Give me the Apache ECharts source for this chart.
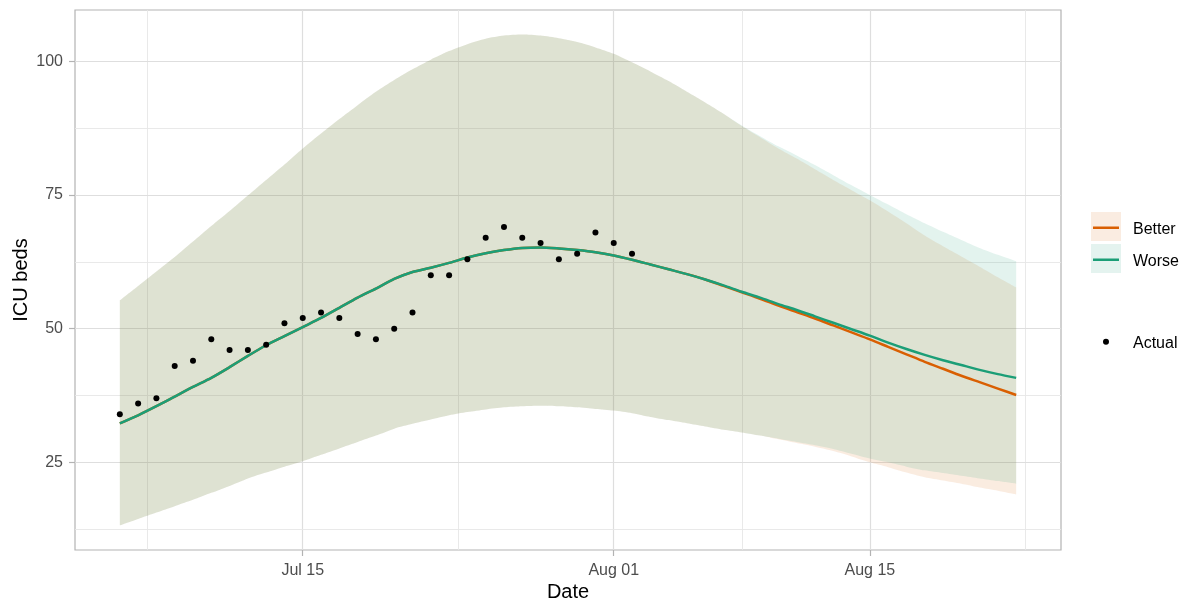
<!DOCTYPE html>
<html><head><meta charset="utf-8">
<script src="https://cdn.jsdelivr.net/npm/echarts@6/dist/echarts.min.js"></script>
<style>html,body{margin:0;padding:0;background:#fff}#chart{width:1188px;height:601px}</style>
</head><body><div id="chart"></div>
<script>
// ---------- data ----------
const forecastDates = ['2020-07-05','2020-07-06','2020-07-07','2020-07-08','2020-07-09','2020-07-10','2020-07-11','2020-07-12','2020-07-13','2020-07-14',
  '2020-07-15','2020-07-16','2020-07-17','2020-07-18','2020-07-19','2020-07-20','2020-07-21','2020-07-22','2020-07-23','2020-07-24',
  '2020-07-25','2020-07-26','2020-07-27','2020-07-28','2020-07-29','2020-07-30','2020-07-31','2020-08-01','2020-08-02','2020-08-03',
  '2020-08-04','2020-08-05','2020-08-06','2020-08-07','2020-08-08','2020-08-09','2020-08-10','2020-08-11','2020-08-12','2020-08-13',
  '2020-08-14','2020-08-15','2020-08-16','2020-08-17','2020-08-18','2020-08-19','2020-08-20','2020-08-21','2020-08-22','2020-08-23'];
const worseMid = [32.3,33.8,35.5,37.3,39.1,40.8,42.8,44.9,46.9,48.6, 50.3,52.0,53.9,55.8,57.5,59.3,60.6,61.4,62.3,63.3,
  64.1,64.7,65.1,65.2,65.0,64.7,64.3,63.7,62.9,62.0, 61.1,60.2,59.2,58.1,56.9,55.8,54.6,53.5,52.3,51.1,
  49.9,48.7,47.4,46.2,45.1,44.1,43.2,42.3,41.5,40.8];
const betterMid = [32.3,33.8,35.5,37.3,39.1,40.8,42.8,44.9,46.9,48.6, 50.3,52.0,53.9,55.8,57.5,59.3,60.6,61.4,62.3,63.3,
  64.1,64.7,65.1,65.2,65.0,64.7,64.3,63.7,62.9,62.0, 61.1,60.2,59.2,58.0,56.8,55.6,54.3,53.1,51.9,50.6,
  49.3,48.0,46.6,45.2,43.8,42.5,41.2,40.0,38.8,37.6];
const worseUpper = [55.3,58.0,60.7,63.4,66.3,69.2,72.0,74.9,77.8,80.7, 83.7,86.5,89.2,91.8,94.3,96.5,98.5,100.3,101.9,103.2,
  104.2,104.8,105.0,104.8,104.3,103.6,102.6,101.4,99.8,98.1, 96.3,94.3,92.3,90.2,88.0,86.0,84.1,82.4,80.6,78.7,
  76.8,75.0,73.2,71.4,69.7,68.1,66.6,65.1,63.8,62.6];
const betterUpper = [55.3,58.0,60.7,63.4,66.3,69.2,72.0,74.9,77.8,80.7, 83.7,86.5,89.2,91.8,94.3,96.5,98.5,100.3,101.9,103.2,
  104.2,104.8,105.0,104.8,104.3,103.6,102.6,101.4,99.8,98.1, 96.3,94.3,92.3,90.2,87.9,85.8,83.7,81.8,79.8,77.8,
  75.9,74.0,71.9,69.7,67.4,65.4,63.5,61.6,59.6,57.7];
const worseLower = [13.2,14.4,15.6,16.8,18.0,19.3,20.6,22.0,23.1,24.2, 25.2,26.4,27.6,28.8,30.0,31.3,32.2,33.0,33.8,34.4,
  34.9,35.3,35.5,35.6,35.5,35.3,35.0,34.7,34.2,33.5, 32.9,32.3,31.7,31.1,30.6,30.0,29.4,28.8,28.2,27.5,
  26.6,25.7,25.0,24.2,23.5,23.0,22.5,22.0,21.5,21.0];
const betterLower = [13.2,14.4,15.6,16.8,18.0,19.3,20.6,22.0,23.1,24.2, 25.2,26.4,27.6,28.8,30.0,31.3,32.2,33.0,33.8,34.4,
  34.9,35.3,35.5,35.6,35.5,35.3,35.0,34.7,34.2,33.5, 32.9,32.3,31.7,31.1,30.6,30.0,29.3,28.6,27.9,27.1,
  26.1,25.0,24.1,23.1,22.2,21.6,21.0,20.3,19.7,19.0];
const actualDates = ['2020-07-05','2020-07-06','2020-07-07','2020-07-08','2020-07-09','2020-07-10','2020-07-11','2020-07-12','2020-07-13','2020-07-14',
  '2020-07-15','2020-07-16','2020-07-17','2020-07-18','2020-07-19','2020-07-20','2020-07-21','2020-07-22','2020-07-23','2020-07-24',
  '2020-07-25','2020-07-26','2020-07-27','2020-07-28','2020-07-29','2020-07-30','2020-07-31','2020-08-01','2020-08-02'];
const actualBeds = [34,36,37,43,44,48,46,46,47,51,52,53,52,49,48,50,53,60,60,63,67,69,67,66,63,64,68,66,64];

const xTickDates = ['2020-07-15','2020-08-01','2020-08-15'];
const xTickLabels = ['Jul 15','Aug 01','Aug 15'];
const xMinorDates = ['2020-07-06T12:00','2020-07-23T12:00','2020-08-08T00:00','2020-08-23T12:00'];
const yTicks = [25, 50, 75, 100];
const yMinor = [12.5, 37.5, 62.5, 87.5];

// ---------- helpers ----------
function ts(s) {
  return s.indexOf('T') >= 0 ? Date.parse(s + ':00Z') : Date.parse(s + 'T00:00:00Z');
}
const fx = forecastDates.map(ts);
const ax = actualDates.map(ts);
const pairs = (xs, ys) => xs.map((x, i) => [x, ys[i]]);
const diff = (a, b) => a.map((v, i) => +(v - b[i]).toFixed(3));

const xLo = Math.min(...fx), xHi = Math.max(...fx);
const xPad = (xHi - xLo) * 0.05;
const allY = worseLower.concat(betterLower, worseUpper, betterUpper, actualBeds);
const yLo = Math.min(...allY), yHi = Math.max(...allY);
const yPad = (yHi - yLo) * 0.05;

const xTickVals = xTickDates.map(ts);
const labelMap = {};
xTickVals.forEach((v, i) => { labelMap[v] = xTickLabels[i]; });

const ORANGE = '#d95f02', TEAL = '#1b9e77';
const FONT = 'Liberation Sans, Arial, sans-serif';
const GRID_MAJOR = '#dedede', GRID_MINOR = '#e6e6e6';
const SMOOTH = 0.25;

const gridLines = []
  .concat(xTickVals.map(v => ({ xAxis: v, lineStyle: { color: GRID_MAJOR, width: 1.2, type: 'solid' } })))
  .concat(xMinorDates.map(ts).map(v => ({ xAxis: v, lineStyle: { color: GRID_MINOR, width: 0.9, type: 'solid' } })))
  .concat(yTicks.map(v => ({ yAxis: v, lineStyle: { color: GRID_MAJOR, width: 1.2, type: 'solid' } })))
  .concat(yMinor.map(v => ({ yAxis: v, lineStyle: { color: GRID_MINOR, width: 0.9, type: 'solid' } })));

const chart = echarts.init(document.getElementById('chart'), null, { renderer: 'canvas' });

// legend key icons: box 30x29 inside a 30x36 slot so the label sits slightly lower, as in the reference
const boxIcon = 'path://M0,0h30v29h-30z M30,36h0.01v0.01h-0.01z';
const lineIcon = 'path://M0,0h0.01v0.01h-0.01z M30,36h0.01v0.01h-0.01z M2,14.4h26v2.6h-26z';
const dotIcon = 'path://M0,0h0.01v0.01h-0.01z M30,32h0.01v0.01h-0.01z M12,14.5a3,3 0 1,0 6,0a3,3 0 1,0 -6,0z';
const legendText = { fontSize: 16, color: '#000', fontFamily: FONT, padding: [0, 0, 0, 7] };

chart.setOption({
  animation: false,
  backgroundColor: '#ffffff',
  textStyle: { fontFamily: FONT },
  grid: { left: 75, top: 10, width: 986, height: 540, show: true, borderColor: '#b3b3b3', borderWidth: 1.2,
          backgroundColor: 'transparent', containLabel: false, outerBoundsMode: 'none' },
  xAxis: [
    { // data axis (time), hidden
      type: 'time', min: xLo - xPad, max: xHi + xPad,
      axisLine: { show: false, onZero: false }, axisTick: { show: false }, axisLabel: { show: false },
      splitLine: { show: false }, minorSplitLine: { show: false }
    },
    { // label axis, same scale
      type: 'value', position: 'bottom', min: xLo - xPad, max: xHi + xPad,
      axisLine: { show: false, onZero: false },
      splitLine: { show: false },
      axisTick: { show: true, length: 6, lineStyle: { color: '#b3b3b3', width: 1.2 }, customValues: xTickVals },
      axisLabel: { customValues: xTickVals, formatter: v => labelMap[v] || '', color: '#4d4d4d', fontSize: 16, fontFamily: FONT, margin: 13 },
      name: 'Date', nameLocation: 'middle', nameGap: 32, nameMoveOverlap: false,
      nameTextStyle: { color: '#000', fontSize: 20, fontFamily: FONT }
    }
  ],
  yAxis: {
    type: 'value', min: yLo - yPad, max: yHi + yPad,
    axisLine: { show: false, onZero: false },
    splitLine: { show: false },
    axisTick: { show: true, length: 6, lineStyle: { color: '#b3b3b3', width: 1.2 }, customValues: yTicks },
    axisLabel: { customValues: yTicks, color: '#4d4d4d', fontSize: 16, fontFamily: FONT, margin: 12 },
    name: 'ICU beds', nameLocation: 'middle', nameGap: 44, nameRotate: 90, nameMoveOverlap: false,
    nameTextStyle: { color: '#000', fontSize: 20, fontFamily: FONT }
  },
  legend: [
    { orient: 'vertical', left: 1091, top: 212, padding: 0, itemWidth: 30, itemHeight: 36, itemGap: -4, selectedMode: false,
      symbolKeepAspect: false,
      textStyle: legendText,
      data: [
        { name: 'Better', icon: boxIcon, itemStyle: { color: '#faece1', borderWidth: 0 } },
        { name: 'Worse', icon: boxIcon, itemStyle: { color: '#e4f3ef', borderWidth: 0 } }
      ] },
    { orient: 'vertical', left: 1091, top: 212, padding: 0, itemWidth: 30, itemHeight: 36, itemGap: -4, selectedMode: false, z: 6,
      symbolKeepAspect: false,
      textStyle: Object.assign({}, legendText, { color: 'rgba(0,0,0,0)' }),
      data: [
        { name: 'Better', icon: lineIcon, itemStyle: { color: ORANGE, borderWidth: 0 } },
        { name: 'Worse', icon: lineIcon, itemStyle: { color: TEAL, borderWidth: 0 } }
      ] },
    { orient: 'vertical', left: 1091, top: 327.2, padding: 0, itemWidth: 30, itemHeight: 32, selectedMode: false,
      symbolKeepAspect: false,
      textStyle: legendText,
      data: [ { name: 'Actual', icon: dotIcon, itemStyle: { color: '#000', borderWidth: 0 } } ] }
  ],
  series: [
    { name: 'grid', type: 'line', xAxisIndex: 0, data: [], z: 1, silent: true,
      markLine: { silent: true, z: 1, symbol: ['none', 'none'], label: { show: false }, animation: false, data: gridLines } },
    { name: 'Better low', type: 'line', xAxisIndex: 0, stack: 'bandB', data: pairs(fx, betterLower), symbol: 'none', silent: true, z: 2,
      smooth: SMOOTH, lineStyle: { opacity: 0, width: 0 } },
    { name: 'Better band', type: 'line', xAxisIndex: 0, stack: 'bandB', data: pairs(fx, diff(betterUpper, betterLower)), symbol: 'none', silent: true, z: 2,
      smooth: SMOOTH, lineStyle: { opacity: 0, width: 0 }, areaStyle: { color: 'rgba(217,95,2,0.12)', opacity: 1 } },
    { name: 'Worse low', type: 'line', xAxisIndex: 0, stack: 'bandW', data: pairs(fx, worseLower), symbol: 'none', silent: true, z: 2,
      smooth: SMOOTH, lineStyle: { opacity: 0, width: 0 } },
    { name: 'Worse band', type: 'line', xAxisIndex: 0, stack: 'bandW', data: pairs(fx, diff(worseUpper, worseLower)), symbol: 'none', silent: true, z: 2,
      smooth: SMOOTH, lineStyle: { opacity: 0, width: 0 }, areaStyle: { color: 'rgba(27,158,119,0.12)', opacity: 1 } },
    { name: 'Better', type: 'line', xAxisIndex: 0, data: pairs(fx, betterMid), symbol: 'none', z: 3, smooth: SMOOTH,
      lineStyle: { color: ORANGE, width: 2.5 }, itemStyle: { color: ORANGE } },
    { name: 'Worse', type: 'line', xAxisIndex: 0, data: pairs(fx, worseMid), symbol: 'none', z: 4, smooth: SMOOTH,
      lineStyle: { color: TEAL, width: 2.5 }, itemStyle: { color: TEAL } },
    { name: 'Actual', type: 'scatter', xAxisIndex: 0, data: pairs(ax, actualBeds), symbol: 'circle', symbolSize: 6, z: 5,
      itemStyle: { color: '#000', opacity: 1 } }
  ]
});
</script>
</body></html>
